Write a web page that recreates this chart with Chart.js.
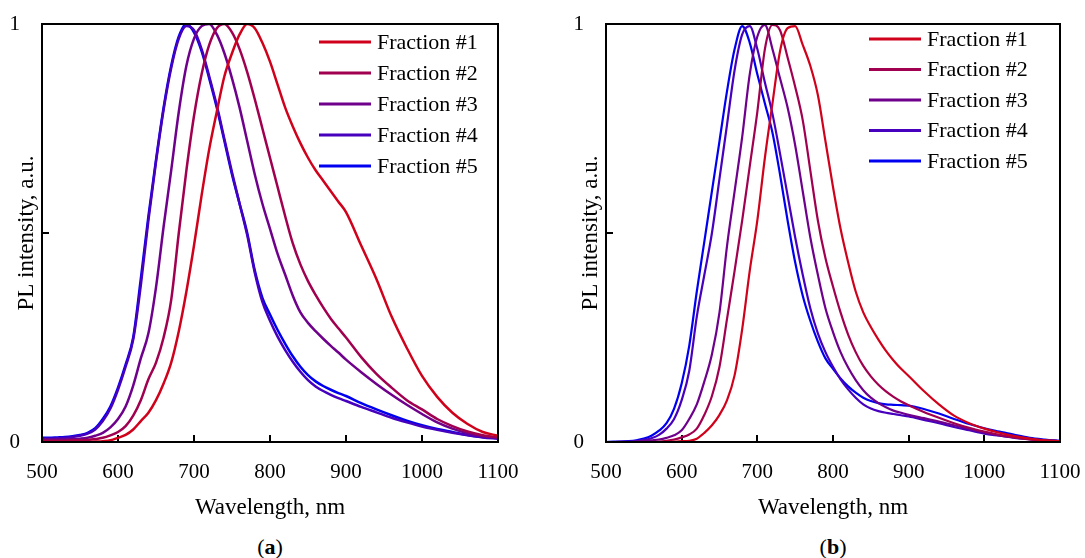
<!doctype html>
<html>
<head>
<meta charset="utf-8">
<title>PL spectra of fractions</title>
<script src="https://cdn.jsdelivr.net/npm/chart.js"></script>
<style>
  body { margin: 0; background: #fff; width: 1085px; height: 558px; overflow: hidden; position: relative; font-family: 'Liberation Serif', serif; color: #000; }
  .panel { position: absolute; top: 0; height: 530px; }
  #pa { left: 0; width: 540px; }
  #pb { left: 564px; width: 521px; }
  .cap { position: absolute; top: 534px; font-size: 22px; line-height: 25px; transform: translateX(-50%); }
</style>
</head>
<body>
<div class="panel" id="pa"><canvas id="chartA"></canvas></div>
<div class="panel" id="pb"><canvas id="chartB"></canvas></div>
<div class="cap" style="left:270px">(<b>a</b>)</div>
<div class="cap" style="left:833px">(<b>b</b>)</div>
<script>
// wavelength grid, nm
const wavelength = [500, 510, 520, 530, 540, 550, 560, 570, 580, 590, 600, 610, 620, 630, 640, 650, 660, 670, 680, 690,
  700, 710, 720, 730, 740, 750, 760, 770, 780, 790, 800, 810, 820, 830, 840, 850, 860, 870, 880, 890,
  900, 920, 940, 960, 980, 1000, 1020, 1040, 1060, 1080, 1100];

const labels = ['Fraction #1', 'Fraction #2', 'Fraction #3', 'Fraction #4', 'Fraction #5'];
const colors = ['#d0021b', '#a0004f', '#6e008c', '#4600be', '#0000f0'];
const xTicks = [500, 600, 700, 800, 900, 1000, 1100];

// (a) measured spectra
const a1 = [0, 0, 0, 0, 0, 0, 0, 0.001, 0.002, 0.004, 0.01, 0.017, 0.03, 0.05, 0.07, 0.1, 0.14, 0.19, 0.265, 0.36,
  0.47, 0.59, 0.7, 0.79, 0.875, 0.93, 0.975, 1.0, 0.99, 0.955, 0.91, 0.855, 0.8, 0.755, 0.715, 0.68, 0.65, 0.625, 0.6, 0.575,
  0.55, 0.47, 0.39, 0.3, 0.225, 0.158, 0.108, 0.07, 0.043, 0.024, 0.015];
const a2 = [0.003, 0.003, 0.003, 0.003, 0.004, 0.004, 0.005, 0.007, 0.01, 0.016, 0.024, 0.038, 0.063, 0.1, 0.15, 0.19, 0.25, 0.34, 0.5, 0.65,
  0.78, 0.88, 0.95, 0.99, 1.0, 0.98, 0.94, 0.885, 0.82, 0.75, 0.68, 0.61, 0.54, 0.475, 0.425, 0.385, 0.352, 0.322, 0.295, 0.272,
  0.25, 0.203, 0.163, 0.13, 0.1, 0.078, 0.055, 0.038, 0.025, 0.016, 0.011];
const a3 = [0.006, 0.006, 0.006, 0.006, 0.007, 0.008, 0.01, 0.015, 0.022, 0.035, 0.055, 0.085, 0.135, 0.2, 0.26, 0.37, 0.515, 0.65, 0.79, 0.9,
  0.965, 0.995, 1.0, 0.975, 0.93, 0.87, 0.8, 0.72, 0.64, 0.57, 0.51, 0.45, 0.4, 0.35, 0.31, 0.285, 0.265, 0.247, 0.23, 0.214,
  0.197, 0.167, 0.139, 0.113, 0.089, 0.067, 0.047, 0.032, 0.021, 0.014, 0.01];
const a4 = [0.008, 0.008, 0.009, 0.01, 0.012, 0.015, 0.02, 0.03, 0.05, 0.08, 0.125, 0.18, 0.245, 0.375, 0.53, 0.67, 0.795, 0.895, 0.965, 0.995,
  0.985, 0.94, 0.875, 0.805, 0.725, 0.645, 0.57, 0.495, 0.405, 0.335, 0.29, 0.252, 0.22, 0.192, 0.168, 0.148, 0.133, 0.122, 0.113, 0.105,
  0.098, 0.084, 0.071, 0.058, 0.047, 0.037, 0.029, 0.022, 0.016, 0.011, 0.008];
const a5 = [0.01, 0.01, 0.011, 0.012, 0.014, 0.017, 0.022, 0.033, 0.055, 0.085, 0.13, 0.185, 0.25, 0.39, 0.54, 0.675, 0.8, 0.9, 0.97, 1.0,
  0.98, 0.935, 0.87, 0.8, 0.72, 0.64, 0.57, 0.5, 0.41, 0.345, 0.305, 0.268, 0.235, 0.205, 0.18, 0.16, 0.145, 0.134, 0.125, 0.117,
  0.11, 0.093, 0.078, 0.064, 0.051, 0.04, 0.031, 0.024, 0.017, 0.012, 0.009];

// (b) calculated spectra
const b1 = [0, 0, 0, 0, 0, 0, 0, 0, 0.001, 0.001, 0.002, 0.003, 0.008, 0.022, 0.04, 0.065, 0.1, 0.16, 0.27, 0.41,
  0.53, 0.68, 0.81, 0.935, 0.99, 0.995, 0.95, 0.9, 0.83, 0.72, 0.61, 0.51, 0.43, 0.36, 0.31, 0.275, 0.245, 0.218, 0.195, 0.175,
  0.158, 0.122, 0.09, 0.063, 0.045, 0.032, 0.022, 0.014, 0.008, 0.004, 0.002];
const b2 = [0, 0, 0, 0, 0, 0, 0, 0.001, 0.003, 0.006, 0.011, 0.018, 0.032, 0.065, 0.11, 0.18, 0.295, 0.41, 0.53, 0.66,
  0.79, 0.94, 0.998, 0.985, 0.92, 0.85, 0.77, 0.65, 0.53, 0.44, 0.372, 0.31, 0.257, 0.215, 0.182, 0.157, 0.137, 0.121, 0.108, 0.097,
  0.088, 0.072, 0.058, 0.045, 0.034, 0.025, 0.017, 0.011, 0.006, 0.003, 0.001];
const b3 = [0, 0, 0, 0, 0.001, 0.002, 0.004, 0.006, 0.01, 0.016, 0.028, 0.055, 0.09, 0.145, 0.21, 0.31, 0.47, 0.6, 0.73, 0.88,
  0.97, 0.998, 0.94, 0.87, 0.8, 0.71, 0.6, 0.49, 0.4, 0.32, 0.263, 0.215, 0.178, 0.148, 0.124, 0.106, 0.093, 0.083, 0.075, 0.07,
  0.065, 0.057, 0.049, 0.04, 0.031, 0.023, 0.016, 0.011, 0.007, 0.004, 0.002];
const b4 = [0, 0, 0.001, 0.001, 0.002, 0.005, 0.009, 0.017, 0.032, 0.055, 0.1, 0.17, 0.3, 0.4, 0.5, 0.63, 0.76, 0.89, 0.975, 0.995,
  0.94, 0.86, 0.785, 0.69, 0.59, 0.49, 0.4, 0.32, 0.26, 0.215, 0.18, 0.15, 0.126, 0.106, 0.09, 0.08, 0.074, 0.07, 0.067, 0.064,
  0.061, 0.053, 0.045, 0.036, 0.028, 0.02, 0.015, 0.01, 0.007, 0.004, 0.002];
const b5 = [0, 0.001, 0.001, 0.002, 0.004, 0.008, 0.015, 0.027, 0.045, 0.08, 0.14, 0.23, 0.36, 0.48, 0.6, 0.72, 0.84, 0.94, 0.995, 0.955,
  0.88, 0.81, 0.74, 0.64, 0.53, 0.43, 0.35, 0.29, 0.24, 0.2, 0.175, 0.152, 0.133, 0.118, 0.106, 0.098, 0.093, 0.09, 0.089, 0.088,
  0.087, 0.079, 0.068, 0.055, 0.043, 0.033, 0.025, 0.017, 0.01, 0.006, 0.003];

const FAMILY = "'Liberation Serif', serif";
const TICK_FONT = { family: FAMILY, size: 21 };
const TITLE_FONT = { family: FAMILY, size: 23 };
const LEGEND_SIZE = 22;

// legend drawn inside the plot area, one row per dataset
const insideLegend = {
  id: 'insideLegend',
  afterDraw(chart, args, opts) {
    const { ctx, chartArea } = chart;
    ctx.save();
    ctx.font = LEGEND_SIZE + 'px ' + FAMILY;
    ctx.textBaseline = 'middle';
    chart.data.datasets.forEach((ds, i) => {
      const x = chartArea.left + opts.left;
      const y = chartArea.top + opts.top + i * opts.gap;
      ctx.strokeStyle = ds.borderColor;
      ctx.lineWidth = 3;
      ctx.beginPath(); ctx.moveTo(x, y); ctx.lineTo(x + 52, y); ctx.stroke();
      ctx.fillStyle = '#000';
      ctx.fillText(ds.label, x + 58, y + 1);
    });
    ctx.restore();
  }
};

// black box round the plot area
const frame = {
  id: 'frame',
  afterDraw(chart) {
    const { ctx, chartArea: c } = chart;
    ctx.save();
    ctx.strokeStyle = '#000';
    ctx.lineWidth = 2;
    ctx.strokeRect(c.left, c.top, c.right - c.left, c.bottom - c.top);
    ctx.restore();
  }
};

function makeChart(id, series, legend, padRight, lineWidth) {
  const datasets = series.map((s, i) => ({
    label: labels[i],
    data: wavelength.map((w, k) => ({ x: w, y: s[k] })),
    borderColor: colors[i],
    backgroundColor: colors[i],
    borderWidth: lineWidth,
    pointRadius: 0,
    cubicInterpolationMode: 'monotone',
  }));
  return new Chart(document.getElementById(id), {
    type: 'line',
    data: { datasets },
    plugins: [insideLegend, frame],
    options: {
      responsive: true,
      maintainAspectRatio: false,
      animation: false,
      layout: { padding: { top: 24, right: padRight, bottom: 0, left: 0 } },
      plugins: { legend: { display: false }, tooltip: { enabled: false }, insideLegend: legend },
      scales: {
        x: {
          type: 'linear', min: 500, max: 1100,
          afterBuildTicks: s => { s.ticks = xTicks.map(v => ({ value: v })); },
          ticks: { color: '#000', font: TICK_FONT, padding: 25, maxRotation: 0, autoSkip: false, callback: v => String(v) },
          grid: { drawOnChartArea: false, tickLength: -7, color: '#000', lineWidth: 2 },
          border: { color: '#000', width: 2 },
          title: { display: true, text: 'Wavelength, nm', color: '#000', font: TITLE_FONT, padding: { top: 0, bottom: 8 } },
          // fixed height; end labels may hang past the plot edge
          afterFit: s => { s.height = 88; s.paddingLeft = 0; s.paddingRight = 0; }
        },
        y: {
          min: 0, max: 1,
          ticks: { stepSize: 0.5, display: false },
          grid: { drawOnChartArea: false, tickLength: -7, color: '#000', lineWidth: 2 },
          border: { color: '#000', width: 2 },
          title: { display: true, text: 'PL intensity, a.u.', color: '#000', font: TITLE_FONT, padding: { top: -7, bottom: 0 } },
          afterFit: s => { s.width = 22; }
        },
        yl: {
          position: 'left', weight: 1, min: 0, max: 1,
          ticks: { stepSize: 0.5, padding: 0, color: '#000', font: TICK_FONT, callback: v => (v === 0.5 ? '' : String(v)) },
          grid: { display: false, drawTicks: false },
          border: { display: false },
          afterFit: s => { s.width = 20; }
        }
      }
    }
  });
}

makeChart('chartA', [a1, a2, a3, a4, a5], { left: 277, top: 18, gap: 31 }, 42, 2.5);
makeChart('chartB', [b1, b2, b3, b4, b5], { left: 263, top: 15, gap: 30.5 }, 25, 2.2);
</script>
</body>
</html>
